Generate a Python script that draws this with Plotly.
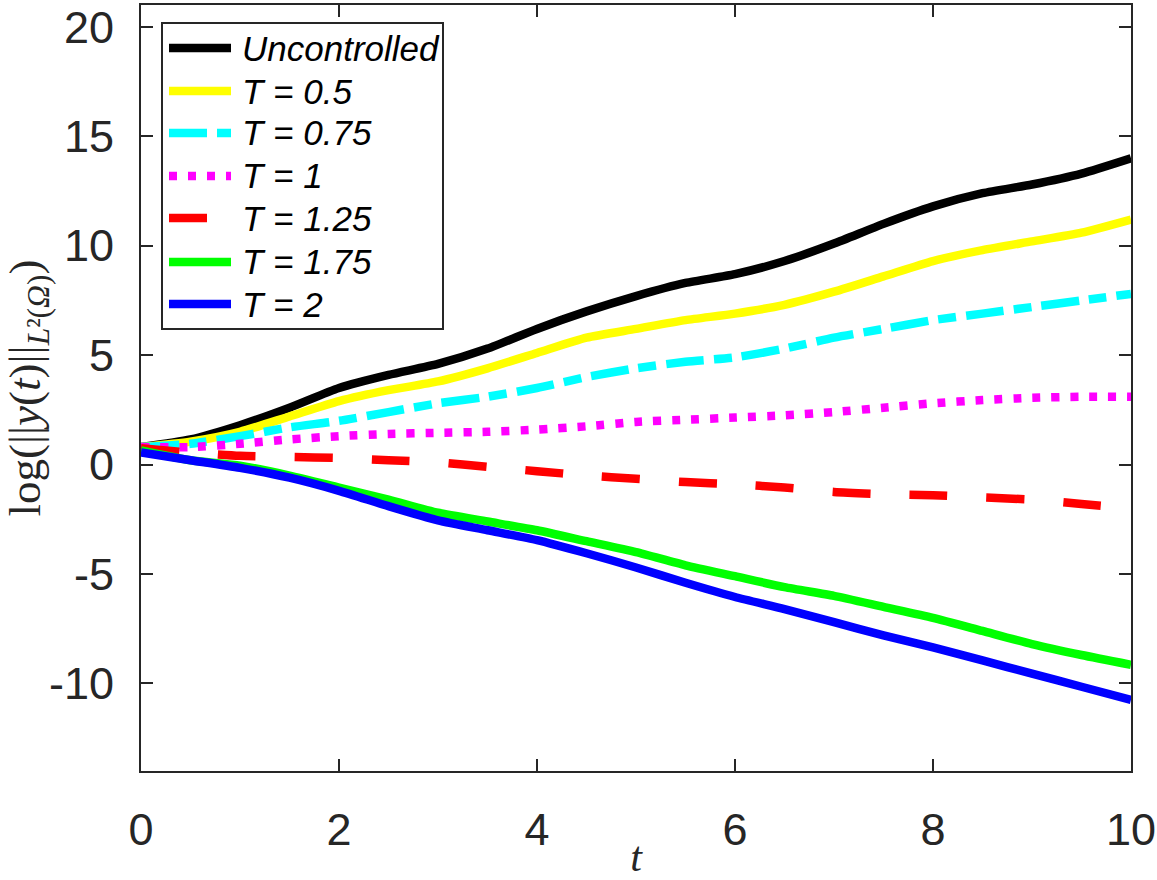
import plotly.graph_objects as go

# ---------------- data ----------------
t = [0, 0.5, 1, 1.5, 2, 2.5, 3, 3.5, 4, 4.5, 5, 5.5, 6, 6.5, 7, 7.5, 8, 8.5, 9, 9.5, 10]

uncontrolled = [0.8, 1.15, 1.8, 2.6, 3.5, 4.1, 4.6, 5.3, 6.2, 7.0, 7.7, 8.3, 8.7, 9.3, 10.1, 11.0, 11.8, 12.4, 12.8, 13.3, 14.0]
T_0_5 = [0.8, 1.05, 1.5, 2.2, 2.9, 3.4, 3.8, 4.4, 5.1, 5.8, 6.2, 6.6, 6.9, 7.3, 7.9, 8.6, 9.3, 9.8, 10.2, 10.6, 11.2]
T_0_75 = [0.8, 0.95, 1.3, 1.7, 2.0, 2.4, 2.8, 3.1, 3.5, 4.0, 4.4, 4.7, 4.9, 5.3, 5.8, 6.2, 6.6, 6.9, 7.2, 7.5, 7.8]
T_1 = [0.8, 0.8, 0.95, 1.15, 1.3, 1.4, 1.45, 1.5, 1.6, 1.75, 1.95, 2.05, 2.15, 2.25, 2.4, 2.6, 2.8, 2.95, 3.05, 3.1, 3.1]
T_1_25 = [0.75, 0.55, 0.4, 0.35, 0.3, 0.2, 0.1, -0.1, -0.3, -0.5, -0.65, -0.8, -0.9, -1.05, -1.25, -1.35, -1.4, -1.5, -1.6, -1.8, -2.0]
T_1_75 = [0.65, 0.2, -0.05, -0.5, -1.05, -1.6, -2.2, -2.6, -3.0, -3.5, -4.0, -4.6, -5.1, -5.6, -6.0, -6.5, -7.0, -7.6, -8.2, -8.7, -9.15]
T_2 = [0.55, 0.2, -0.15, -0.6, -1.2, -1.9, -2.55, -3.0, -3.45, -4.05, -4.7, -5.4, -6.05, -6.6, -7.2, -7.8, -8.35, -8.95, -9.55, -10.15, -10.75]

series_names = ["Uncontrolled", "T = 0.5", "T = 0.75", "T = 1", "T = 1.25", "T = 1.75", "T = 2"]
series_values = [uncontrolled, T_0_5, T_0_75, T_1, T_1_25, T_1_75, T_2]

x_ticks = [0, 2, 4, 6, 8, 10]
x_tick_labels = ["0", "2", "4", "6", "8", "10"]
y_ticks = [-10, -5, 0, 5, 10, 15, 20]
y_tick_labels = ["-10", "-5", "0", "5", "10", "15", "20"]

# ---------------- styles ----------------
colors = ["#000000", "#FFFF00", "#00FFFF", "#FF00FF", "#FF0000", "#00FF00", "#0000FF"]
dashes = ["solid", "solid", "38px,10px,18px,10px", "8px,11px", "38px,39px", "solid", "solid"]
LW = 8.5

W, H = 1157, 880
L, R, T, B = 141, 26, 5, 109
PW, PH = W - L - R, H - T - B


def px_x(p):
    return (p - L) / PW


def px_y(p):
    return (H - B - p) / PH


fig = go.Figure()
for name, vals, c, d in zip(series_names, series_values, colors, dashes):
    fig.add_trace(go.Scatter(
        x=t, y=vals, mode="lines", name=name, showlegend=False,
        line=dict(color=c, width=LW, dash=d, shape="spline", smoothing=0.6),
    ))

# ---------------- custom legend (MATLAB style) ----------------
shapes = [dict(type="rect", xref="paper", yref="paper",
               x0=px_x(162), x1=px_x(443), y0=px_y(329), y1=px_y(23),
               line=dict(color="#262626", width=2), fillcolor="white", layer="above")]
annotations = []
row_y = [48, 91, 133, 176, 218, 262, 304]
for name, c, d, ry in zip(series_names, colors, dashes, row_y):
    shapes.append(dict(type="line", xref="paper", yref="paper",
                       x0=px_x(169), x1=px_x(231), y0=px_y(ry), y1=px_y(ry),
                       line=dict(color=c, width=LW, dash=d), layer="above"))
    annotations.append(dict(xref="paper", yref="paper", x=px_x(240), y=px_y(ry),
                            xanchor="left", yanchor="middle", showarrow=False,
                            text="<i>%s</i>" % name,
                            font=dict(family="Liberation Sans, Arial", size=35, color="black")))

axis_common = dict(
    showgrid=False, zeroline=False, showline=True, linecolor="#262626", linewidth=2,
    mirror="allticks", ticks="inside", ticklen=12, tickwidth=2, tickcolor="#262626",
    tickfont=dict(family="Liberation Sans, Arial", size=45, color="#262626"),
)

fig.update_layout(
    width=W, height=H,
    margin=dict(l=L, r=R, t=T, b=B, autoexpand=False),
    plot_bgcolor="white", paper_bgcolor="white",
    shapes=shapes, annotations=annotations,
    xaxis=dict(range=[0, 10], tickmode="array", tickvals=x_ticks, ticktext=x_tick_labels,
               ticklabelstandoff=18,
               title=dict(text="<i>t</i>", standoff=28,
                          font=dict(family="Liberation Serif, Times New Roman", size=42, color="#262626")),
               **axis_common),
    yaxis=dict(range=[-14, 21], tickmode="array", tickvals=y_ticks, ticktext=y_tick_labels,
               ticklabelstandoff=16,
               title=dict(text="log(||<i>y</i>(<i>t</i>)||<sub><i>L</i>²(<i>Ω</i>)</sub>)", standoff=8,
                          font=dict(family="Liberation Serif, Times New Roman", size=45, color="#262626")),
               **axis_common),
    showlegend=False,
)

fig.write_html("out.html")
